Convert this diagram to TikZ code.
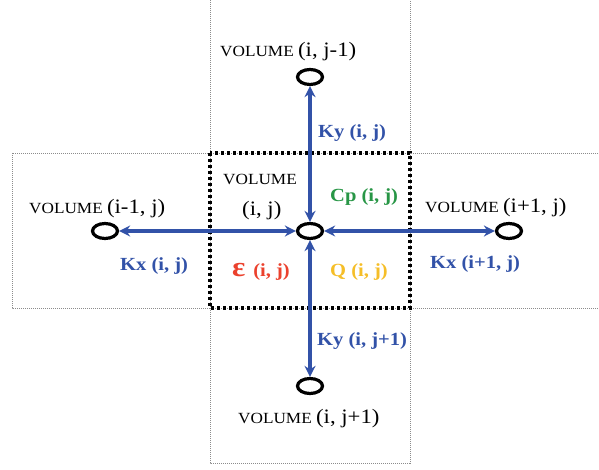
\documentclass[tikz,border=0pt]{standalone}
\usepackage{fontspec}
\setmainfont{Liberation Serif}
\usetikzlibrary{arrows.meta,shapes.geometric}
\definecolor{kblue}{RGB}{50,82,168}
\definecolor{kgreen}{RGB}{40,150,70}
\definecolor{kred}{RGB}{235,65,45}
\definecolor{kyellow}{RGB}{245,190,40}
\newcommand{\vsm}{\fontsize{15.5}{15.5}\selectfont}
\newcommand{\vbig}{\fontsize{20.5}{20.5}\selectfont}
\newcommand{\lbl}{\fontsize{18.5}{18.5}\selectfont\bfseries}
\newcommand{\st}[1]{\scalebox{1.11}[1]{#1}}
\begin{document}
\begin{tikzpicture}[x=1pt,y=-1pt,
  thindot/.style={draw=black!45, line width=0.6pt, dash pattern=on 1pt off 1pt},
  thickdot/.style={draw=black, line width=3.3pt, dash pattern=on 3.3pt off 2.7pt},
  vol/.style={ellipse, draw=black, line width=3.2pt, minimum width=25pt, minimum height=15pt, inner sep=0pt},
  link/.style={draw=kblue, line width=3.2pt, {Stealth[length=11pt,width=11pt]}-{Stealth[length=11pt,width=11pt]}},
  lab/.style={anchor=base west, inner sep=0pt}
]
\useasboundingbox (0,0) rectangle (599,470);
% thin dotted cells
\draw[thindot] (210,-2) rectangle (410,463);
\draw[thindot] (12,153) rectangle (602,308);
% thick dotted control volume
\draw[thickdot] (210,153) rectangle (410,308);
% volume nodes
\node[vol] (C) at (310,231) {};
\node[vol] (T) at (310,77) {};
\node[vol] (B) at (310,386) {};
\node[vol] (L) at (105,231) {};
\node[vol] (R) at (509,231) {};
% connectors
\draw[link] (C) -- (T);
\draw[link] (C) -- (B);
\draw[link] (C) -- (L);
\draw[link] (C) -- (R);
% labels
\node[lab] (tT) at (220,57) {\st{\vsm VOLUME \vbig(i, j-1)}};
\node[lab] (tB) at (238,423) {\st{\vsm VOLUME \vbig(i, j+1)}};
\node[lab] (tL) at (29,214) {\st{\vsm VOLUME \vbig(i-1, j)}};
\node[lab] (tR) at (425,213) {\st{\vsm VOLUME \vbig(i+1, j)}};
\node[lab] (tC1) at (223,185) {\st{\vsm VOLUME}};
\node[lab] (tC2) at (242,215) {\st{\vbig(i, j)}};
\node[lab, text=kblue] (kyT) at (318,138) {\st{\lbl Ky (i, j)}};
\node[lab, text=kblue] (kyB) at (317,345) {\st{\lbl Ky (i, j+1)}};
\node[lab, text=kblue] (kxL) at (120,270) {\st{\lbl Kx (i, j)}};
\node[lab, text=kblue] (kxR) at (430,268) {\st{\lbl Kx (i+1, j)}};
\node[lab, text=kgreen] (cp) at (330,202) {\st{\lbl Cp (i, j)}};
\node[lab, text=kyellow] (q) at (330,276) {\st{\lbl Q (i, j)}};
\node[lab, text=kred] (eps) at (232,276) {\st{\fontsize{28}{28}\selectfont\bfseries ε \lbl(i, j)}};
\end{tikzpicture}
\end{document}
